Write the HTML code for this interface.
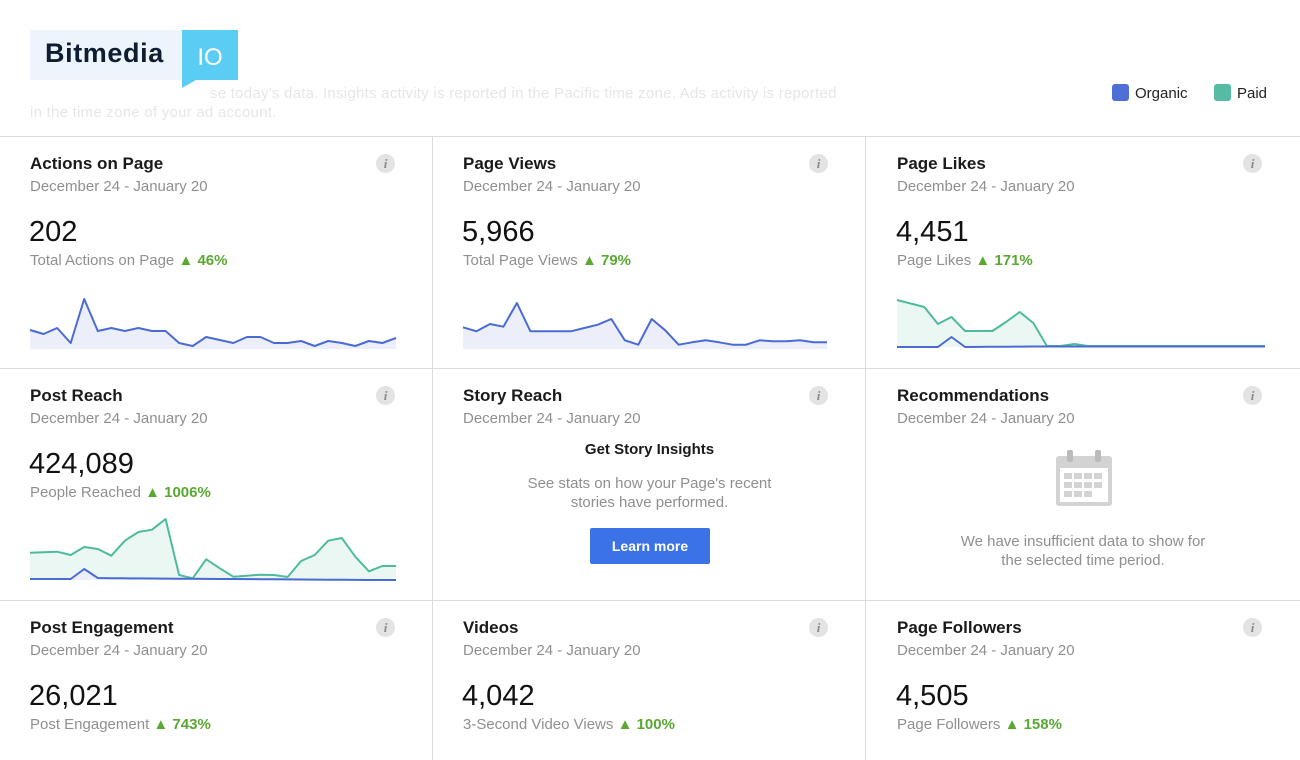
<!DOCTYPE html>
<html><head><meta charset="utf-8">
<style>
*{margin:0;padding:0;box-sizing:border-box}
body{width:1300px;height:760px;background:#fff;font-family:"Liberation Sans",sans-serif;position:relative;overflow:hidden;color:#111}
.abs{position:absolute}
.hl{position:absolute;left:0;width:1300px;height:1px;background:#dcdcdc}
.vl{position:absolute;top:137px;width:1px;height:623px;background:#dcdcdc}
.t{position:absolute;font-size:17px;font-weight:bold;color:#1a1a1a;white-space:nowrap}
.d{position:absolute;font-size:15px;color:#8f8f8f;white-space:nowrap}
.n{position:absolute;font-size:29px;color:#111;white-space:nowrap}
.s{position:absolute;font-size:15px;color:#8f8f8f;white-space:nowrap}
.s b{color:#5aa832;font-weight:bold}
.info{position:absolute;width:19px;height:19px;border-radius:50%;background:#e3e3e3;color:#8a8a8a;font:italic bold 13px "Liberation Serif",serif;text-align:center;line-height:19px}
</style></head><body>
<div class="abs" style="left:30px;top:30px;width:208px;height:58px">
<div class="abs" style="left:0;top:0;width:152px;height:50px;background:#edf4fb"></div>
<div class="abs" style="left:15px;top:8px;font-size:27px;font-weight:bold;color:#0f1d33;letter-spacing:0.6px">Bitmedia</div>
<svg class="abs" style="left:152px;top:0" width="56" height="58"><polygon points="0,0 56,0 56,50 14,50 0,58" fill="#5bcdf5"/><text x="28" y="35" fill="#fff" font-size="24" text-anchor="middle" font-family="Liberation Sans">IO</text></svg>
</div>
<div class="abs" style="left:30px;top:84px;font-size:15px;color:#e6e6e6;line-height:19px;width:860px;letter-spacing:0.25px">
<span style="padding-left:180px">se today's data. Insights activity is reported in the Pacific time zone. Ads activity is reported</span><br>in the time zone of your ad account.</div>
<div class="abs" style="left:1112px;top:84px;font-size:15px;color:#222"><span style="display:inline-block;width:17px;height:17px;border-radius:3px;background:#4f6fd6;vertical-align:-3px;margin-right:6px"></span>Organic</div>
<div class="abs" style="left:1214px;top:84px;font-size:15px;color:#222"><span style="display:inline-block;width:17px;height:17px;border-radius:3px;background:#55bba3;vertical-align:-3px;margin-right:6px"></span>Paid</div>

<div class="hl" style="top:136px"></div><div class="hl" style="top:368px"></div><div class="hl" style="top:600px"></div>
<div class="vl" style="left:432px"></div><div class="vl" style="left:865px"></div>

<div id="cards"></div>

<div class="t" style="left:433px;width:433px;text-align:center;top:441px;font-size:15px">Get Story Insights</div>
<div class="d" style="left:433px;width:433px;text-align:center;top:474px;line-height:19px;white-space:normal">See stats on how your Page's recent<br>stories have performed.</div>
<div class="abs" style="left:590px;top:528px;width:120px;height:36px;background:#3b73e6;border-radius:2px;color:#fff;font-size:14px;font-weight:bold;text-align:center;line-height:36px">Learn more</div>

<svg class="abs" style="left:1055px;top:450px" width="58" height="58"><rect x="1" y="6" width="56" height="50" rx="3" fill="#d3d3d3"/><rect x="5" y="18" width="48" height="34" fill="#fff"/><rect x="12" y="0" width="6" height="12" rx="2" fill="#bbb"/><rect x="40" y="0" width="6" height="12" rx="2" fill="#bbb"/>
<g fill="#d3d3d3"><rect x="9" y="23" width="8" height="6"/><rect x="19" y="23" width="8" height="6"/><rect x="29" y="23" width="8" height="6"/><rect x="39" y="23" width="8" height="6"/><rect x="9" y="32" width="8" height="6"/><rect x="19" y="32" width="8" height="6"/><rect x="29" y="32" width="8" height="6"/><rect x="39" y="32" width="8" height="6"/><rect x="9" y="41" width="8" height="6"/><rect x="19" y="41" width="8" height="6"/><rect x="29" y="41" width="8" height="6"/></g></svg>
<div class="d" style="left:866px;width:434px;text-align:center;top:532px;line-height:19px;white-space:normal">We have insufficient data to show for<br>the selected time period.</div>

<svg id="charts" class="abs" style="left:0;top:0" width="1300" height="760"></svg>

<script>
const cardTitles=["Actions on Page","Page Views","Page Likes","Post Reach","Story Reach","Recommendations","Post Engagement","Videos","Page Followers"];
const cardValues=["202","5,966","4,451","424,089","","","26,021","4,042","4,505"];
const cardSubs=["Total Actions on Page","Total Page Views","Page Likes","People Reached","","","Post Engagement","3-Second Video Views","Page Followers"];
const cardChanges=["46%","79%","171%","1006%","","","743%","100%","158%"];

const actionsOrganic=[19,15,21,6,50,18,21,18,21,18,18,6,3,12,9,6,12,12,6,6,8,3,8,6,3,8,6,11];
const viewsOrganic=[21.7,17.7,25,22.3,46,17.7,17.7,17.7,17.7,21,24.3,30,8.7,4.3,30,18.7,4.3,6.7,8.7,6.7,4.3,4.3,8.7,7.7,7.7,8.7,6.7,6.7];
const likesPaid=[47,43.5,40,23,30,16,16,16,25,35,24,1,1,3,1,1,1,1,1,1,1,1,1,1,1,1,1,1];
const likesOrganic=[0,0,0,0,10,0,0.1,0.2,0.3,0.4,0.5,0.5,0.5,0.5,0.5,0.5,0.5,0.5,0.5,0.5,0.5,0.5,0.5,0.5,0.5,0.5,0.5,0.5];
const reachPaid=[27.3,27.7,28.3,25,33,31,24.3,39.3,48,50.3,61,5,1.7,20.7,11.7,3.3,4.3,5.3,5,3,19,25,39.3,42,23.3,8.7,14,14];
const reachOrganic=[1,1,1,1,11,2,1.8,1.7,1.6,1.5,1.4,1.3,1.2,1.1,1,1,0.9,0.8,0.7,0.6,0.5,0.4,0.3,0.2,0.1,0,0,0];

const colX=[30,463,897], rowY=[137,369,601];
const box=document.getElementById('cards');
cardTitles.forEach((title,i)=>{
  const x=colX[i%3], y=rowY[Math.floor(i/3)];
  const t=document.createElement('div');t.className='t';t.style.left=x+'px';t.style.top=(y+17)+'px';t.textContent=title;
  
  
  box.appendChild(t);
  const d=document.createElement('div');d.className='d';d.style.left=x+'px';d.style.top=(y+41)+'px';d.textContent='December 24 - January 20';
  
  
  box.appendChild(d);
  const ic=document.createElement('div');ic.className='info';ic.style.left=(x+346)+'px';ic.style.top=(y+17)+'px';ic.textContent='i';
  
  
  box.appendChild(ic);
  if(cardValues[i]){
    const n=document.createElement('div');n.className='n';n.style.left=(x-1)+'px';n.style.top=(y+79)+'px';n.textContent=cardValues[i];
    
    
    box.appendChild(n);
    const s=document.createElement('div');s.className='s';s.style.left=x+'px';s.style.top=(y+115)+'px';
    s.innerHTML=cardSubs[i]+' <b>&#9650; '+cardChanges[i]+'</b>';
    
    
    box.appendChild(s);
  }
});

const svg=document.getElementById('charts');
const NS='http://www.w3.org/2000/svg';
function draw(vals,x0,x1,base,k,line,fill,name){
  const step=(x1-x0)/(vals.length-1);
  const xs=i=>x0+i*step, ys=v=>base-v*k;
  const pts=vals.map((v,i)=>xs(i).toFixed(1)+','+ys(v).toFixed(1)).join(' ');
  const a=document.createElementNS(NS,'polygon');
  a.setAttribute('points',x0+','+base+' '+pts+' '+x1+','+base);
  a.setAttribute('fill',fill);
  
  
  svg.appendChild(a);
  const p=document.createElementNS(NS,'polyline');
  p.setAttribute('points',pts);p.setAttribute('fill','none');p.setAttribute('stroke',line);p.setAttribute('stroke-width','2');p.setAttribute('stroke-linejoin','round');
  
  
  svg.appendChild(p);
}
const OL='#4a6bd6',OF='#eceffa',PL='#4dbb9e',PF='#ebf7f3';
draw(actionsOrganic,30,396,349,1,OL,OF,'actions-organic');
draw(viewsOrganic,463,827,349,1,OL,OF,'views-organic');
draw(likesPaid,897,1265,347,1,PL,PF,'likes-paid');
draw(likesOrganic,897,1265,347,1,OL,'none','likes-organic');
draw(reachPaid,30,396,580,1,PL,PF,'reach-paid');
draw(reachOrganic,30,396,580,1,OL,OF,'reach-organic');
</script>
</body></html>
